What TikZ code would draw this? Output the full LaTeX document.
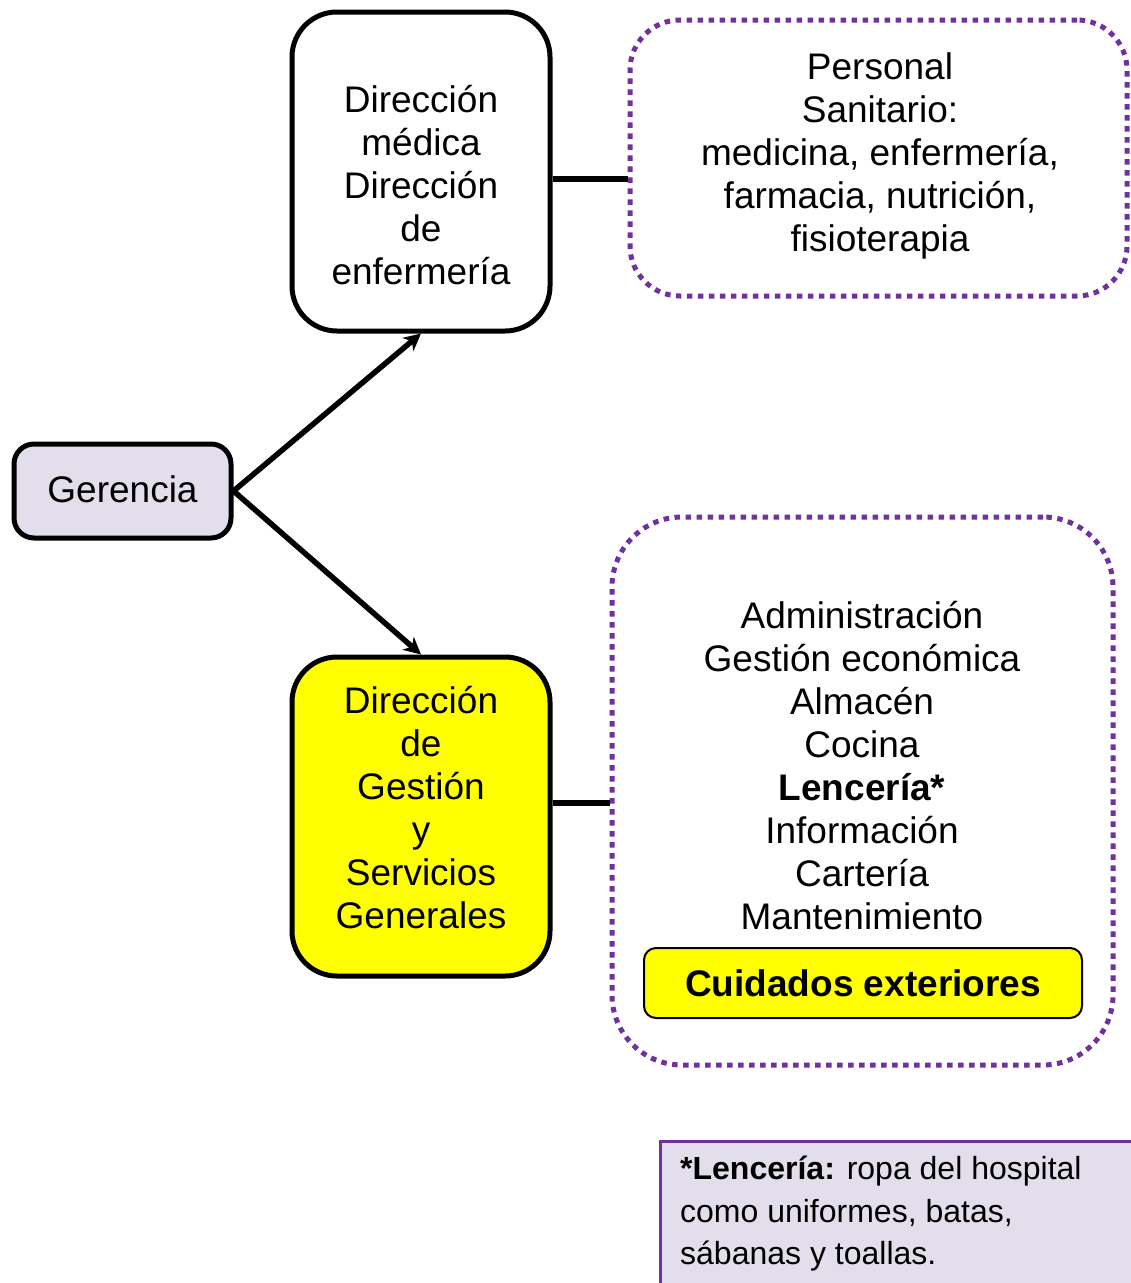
\documentclass[tikz,border=0pt]{standalone}
\usepackage{fontspec}
\setmainfont{Liberation Sans}
\usetikzlibrary{arrows.meta}
\definecolor{purp}{HTML}{7030A0}
\definecolor{lav}{HTML}{E3DEEB}
\definecolor{yel}{HTML}{FFFF00}
\begin{document}
\begin{tikzpicture}[x=1pt,y=-1pt,
  big/.style={font=\fontsize{37}{43}\selectfont},
  small/.style={font=\fontsize{32}{42.5}\selectfont},
  mainbox/.style={draw=black, line width=5pt, rectangle, inner sep=0pt},
  dotbox/.style={draw=purp, line width=5pt, dash pattern=on 5.5pt off 5.5pt, rectangle, inner sep=0pt},
  txt/.style={big, align=center, inner sep=0pt},
  arr/.style={line width=5.5pt, -{Stealth[length=17pt,width=17pt,inset=5pt]}},
  conn/.style={line width=5.5pt}
]
\clip (0,0) rectangle (1131,1283);
\fill[white] (0,0) rectangle (1131,1283);

% boxes
\node[mainbox, fill=lav, rounded corners=20pt, minimum width=217, minimum height=94] (ger) at (122.5,491) {};
\node[big, inner sep=0pt] (gertxt) at (122.5,489) {Gerencia};
\node[mainbox, fill=white, rounded corners=45pt, minimum width=258, minimum height=319] (top) at (421,171.5) {};
\node[mainbox, fill=yel, rounded corners=45pt, minimum width=258, minimum height=319] (bot) at (421,816.5) {};
\node[dotbox, rounded corners=50pt, minimum width=497, minimum height=276] (d1) at (878.5,158) {};
\node[dotbox, rounded corners=70pt, minimum width=501, minimum height=548] (d2) at (862.5,791) {};
\node[draw=black, line width=2pt, fill=yel, rounded corners=12pt, minimum width=438, minimum height=70, inner sep=0pt,
      font=\fontsize{37}{43}\selectfont\bfseries] (cui) at (863,983) {Cuidados exteriores};

% texts
\node[txt] (toptxt) at (421,185) {Dirección\\médica\\Dirección\\de\\enfermería};
\node[txt] (bottxt) at (421,807.5) {Dirección\\de\\Gestión\\y\\Servicios\\Generales};
\node[txt] (d1txt) at (880,156) {Personal\\Sanitario:\\medicina, enfermería,\\farmacia, nutrición,\\fisioterapia};
\node[txt] (d2txt) at (862,766) {Administración\\Gestión económica\\Almacén\\Cocina\\\textbf{Lencería*}\\Información\\Cartería\\Mantenimiento};

% footnote
\node[draw=purp, line width=3pt, fill=lav, rectangle, minimum width=560, minimum height=200, inner sep=0pt, anchor=north west] (foot) at (658.5,1139.5) {};
\node[small, align=left, inner sep=0pt, anchor=west] (foottxt) at (680,1214)
  {\textbf{*Lencería:} ropa del hospital\\como uniformes, batas,\\sábanas y toallas.};

% connectors
\draw[arr] (ger.east) -- (top.south);
\draw[arr] (ger.east) -- (bot.north);
\draw[conn] ([yshift=-7.5pt]top.east) -- ([yshift=-7.5pt]top.east -| d1.west);
\draw[conn] ([yshift=13.5pt]bot.east) -- ([yshift=13.5pt]bot.east -| d2.west);
\end{tikzpicture}
\end{document}
